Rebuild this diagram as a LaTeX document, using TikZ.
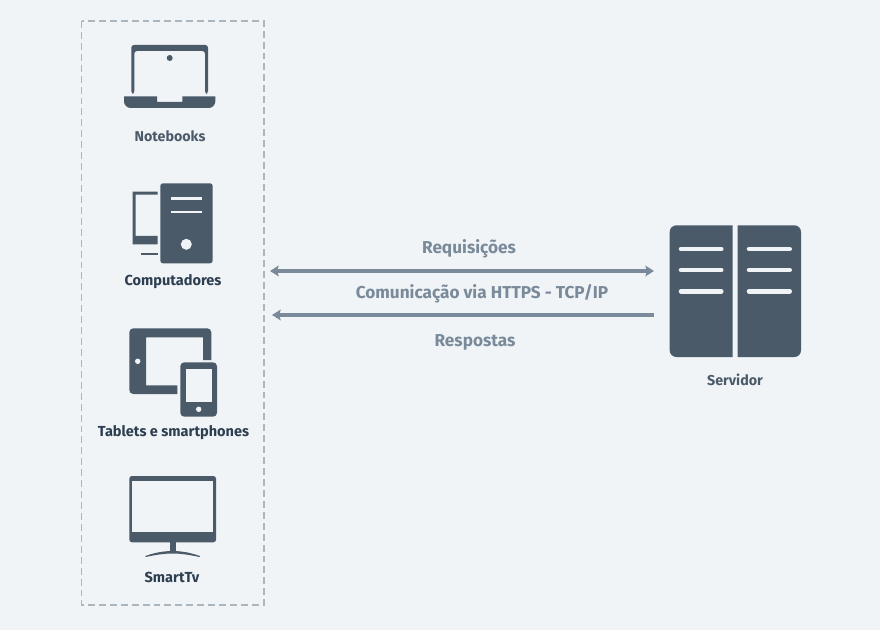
\documentclass[tikz,border=0pt]{standalone}
\usepackage{fontspec}
\setmainfont{Fira Sans}
\usetikzlibrary{arrows.meta}
\usetikzlibrary{positioning}
\definecolor{pagebg}{RGB}{240,244,247}
\definecolor{iconfill}{RGB}{74,90,105}
\definecolor{darktext}{RGB}{44,62,80}
\definecolor{arrowgray}{RGB}{122,138,154}
\definecolor{boxgray}{RGB}{170,183,192}
\tikzset{
  icon/.style={fill=iconfill,draw=none},
  hole/.style={fill=pagebg,draw=none},
  devlabel/.style={font=\bfseries\fontsize{10.9}{13}\selectfont,text=darktext,inner sep=0pt},
  srvlabel/.style={font=\bfseries\fontsize{10.7}{13}\selectfont,text=iconfill,inner sep=0pt},
  msglabel/.style={font=\bfseries\fontsize{12.9}{15}\selectfont,text=arrowgray,inner sep=0pt},
  msgarrow/.style={draw=arrowgray,line width=2.4pt,{Stealth[length=6.5pt,width=8pt,inset=1.2pt]}-{Stealth[length=6.5pt,width=8pt,inset=1.2pt]}},
  backarrow/.style={draw=arrowgray,line width=2.4pt,{Stealth[length=6.5pt,width=8pt,inset=1.2pt]}-},
  srvline/.style={draw=pagebg,line width=3.4pt,line cap=round},
  pcline/.style={draw=pagebg,line width=1.8pt}
}

\begin{document}
\begin{tikzpicture}[x=0.75pt,y=0.75pt,yscale=-1,xscale=1]
\useasboundingbox (0,0) rectangle (880,630);
\fill[pagebg] (0,0) rectangle (880,630);

%Dashed Box
\draw[boxgray,line width=1.1pt,dash pattern=on 5.2pt off 3pt] (81.5,21) rectangle (264,605);

%Notebook
\fill[icon,rounded corners=2pt] (131.3,93.7) -- (131.3,45) -- (208,45) -- (208,93.7) -- (205,93.7) -- (205,51) -- (134.3,51) -- (134.3,93.7) -- cycle;
\fill[icon] (169.7,58) circle [radius=3];
\fill[icon] (124,96.3) -- (157,96.3) -- (157,102) -- (182.3,102) -- (182.3,96.3) -- (215.3,96.3) -- (215.3,101) [rounded corners=5pt] -- (215.3,108) -- (124,108) [sharp corners] -- (124,101) -- cycle;

%Computer
\fill[icon,rounded corners=2pt] (160.3,183.3) rectangle (212.7,263.3);
\draw[pcline] (171.3,198.7) -- (201.7,198.7);
\draw[pcline] (171.3,212.3) -- (201.7,212.3);
\fill[hole] (186.3,244.3) circle [radius=5.5];
\fill[icon] (157.7,191.7) -- (132.7,191.7) -- (132.7,244.3) -- (157.7,244.3) -- (157.7,236) -- (135.7,236) -- (135.7,194.7) -- (157.7,194.7) -- cycle;
\fill[icon] (141,252.7) rectangle (157.7,255.3);

%Tablet
\fill[icon] (211.3,360) [rounded corners=3pt] -- (211.3,328.3) -- (129.3,328.3) -- (129.3,394) [sharp corners] -- (177.3,394) -- (177.3,385.3) -- (146,385.3) -- (146,337.3) -- (203,337.3) -- (203,360) -- cycle;
\fill[hole] (137.7,361.3) circle [radius=2.7];

%Phone
\fill[icon,rounded corners=3pt] (180.3,362.3) rectangle (217,416.7);
\fill[hole] (186,368.7) rectangle (211.7,402.3);
\fill[hole] (198.7,409.3) circle [radius=2.7];

%Tv
\fill[icon,rounded corners=2pt] (129.3,476) rectangle (216,542.3);
\fill[hole] (132,481) rectangle (213.3,532);
\fill[icon] (170,542) rectangle (175.7,552);
\fill[icon] (145.3,556) .. controls (155,552.5) and (164,551) .. (172.8,551) .. controls (181,551) and (190,552.5) .. (200,556) -- (199.5,557) .. controls (190,555) and (181,553.5) .. (172.8,553.5) .. controls (164,553.5) and (155,555) .. (145.7,557) -- cycle;

%Server
\fill[icon] (732.7,225.3) [rounded corners=5pt] -- (669.7,225.3) -- (669.7,357) [sharp corners] -- (732.7,357) -- cycle;
\fill[icon] (737.7,225.3) [rounded corners=5pt] -- (801,225.3) -- (801,357) [sharp corners] -- (737.7,357) -- cycle;
\foreach \y in {249,270,291.3} {
  \draw[srvline] (681,\y) -- (721.3,\y);
  \draw[srvline] (749,\y) -- (789.7,\y);
}

% Text Node
\node[srvlabel] (notebooks) at (170,136) {Notebooks};
% Text Node
\node[devlabel] (computadores) at (173,281.5) {Computadores};
% Text Node
\node[devlabel] (tablets) at (173.5,432.5) {Tablets e smartphones};
% Text Node
\node[devlabel] (smarttv) at (172,577.5) {SmartTv};
% Text Node
\node[srvlabel] (servidor) at (735,380) {Servidor};
% Text Node
\node[msglabel] (requisicoes) at (469,249) {Requisições};
% Text Node
\node[msglabel] (comunicacao) at (482,293.5) {Comunicação via HTTPS - TCP/IP};
% Text Node
\node[msglabel] (respostas) at (475,342) {Respostas};

%Straight Lines
\coordinate (reqleft) at (270,271);
\coordinate (reqright) at (654,271);
\coordinate (respleft) at (272,315);
\coordinate (respright) at (654,315);
\draw[msgarrow] (reqleft) -- (reqright);
\draw[backarrow] (respleft) -- (respright);

\end{tikzpicture}
\end{document}
